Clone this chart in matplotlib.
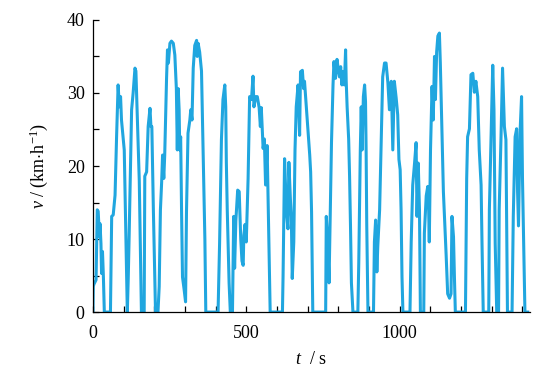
import matplotlib
matplotlib.use("Agg")
import matplotlib.pyplot as plt
from matplotlib.ticker import MultipleLocator

plt.rcParams['font.family'] = ['Liberation Serif', 'DejaVu Serif']
plt.rcParams['mathtext.fontset'] = 'custom'
plt.rcParams['mathtext.rm'] = 'Liberation Serif'
plt.rcParams['mathtext.it'] = 'Liberation Serif:italic'

# speed trace (time in s, speed in km/h)
t_s = [0, 1, 3, 10, 14, 17, 21, 23, 26, 28, 31, 34, 37,
       57, 61, 66, 72, 77, 82, 86, 90, 93, 99, 102, 107, 112,
       115, 118, 126, 131, 137, 140, 144, 151, 155, 158,
       167, 169, 175, 180, 186, 189, 192, 197, 204,
       212, 216, 220, 224, 227, 231, 234, 240, 243, 246, 251, 256, 262, 267,
       272, 275, 278, 281, 283, 286, 289, 292, 297, 302, 305, 310, 316, 319,
       323, 327, 332, 338, 340, 343, 348, 354, 359, 365, 368,
       408, 413, 419, 424, 430, 433, 435, 438, 444, 448,
       455, 459, 462, 466, 472, 477, 482, 486, 490, 492, 496, 500, 506,
       511, 517, 522, 525, 531, 536, 542, 546, 549, 555, 559, 563, 568,
       571, 574, 578,
       618, 620, 625, 631, 636, 639, 644, 647, 650, 655, 659, 663, 669,
       674, 677, 683, 687, 690, 696, 701, 707, 710, 713, 717,
       759, 761, 766, 770, 774, 778, 783, 786, 791, 796, 800, 804, 808,
       812, 815, 820, 824, 826, 829, 834, 837, 840, 843, 848,
       864, 867, 872, 875, 878, 882, 886, 889, 891, 893, 897,
       915, 918, 922, 926, 929, 935, 940, 945, 951, 956, 962, 967, 973,
       978, 983, 989, 994, 998, 1002, 1005, 1008, 1011,
       1034, 1038, 1043, 1049, 1054, 1057, 1061, 1065, 1068,
       1079, 1081, 1087, 1092, 1095, 1097, 1101, 1106, 1110, 1114, 1117,
       1121, 1125, 1130, 1133, 1135, 1139, 1143, 1146, 1152, 1157, 1163,
       1168, 1171, 1176, 1179, 1182,
       1215, 1219, 1222, 1228, 1233, 1239, 1244, 1249, 1255, 1260, 1266,
       1269, 1273,
       1291, 1293, 1298, 1304, 1308, 1312, 1317,
       1323, 1325, 1331, 1336, 1342, 1347, 1349, 1352,
       1367, 1371, 1377, 1382, 1385, 1388, 1393, 1398, 1401, 1405, 1409,
       1418]
v_kmh = [0, 3.5, 3.8, 4.4, 14.0, 13.8, 10.3, 12.1, 9.4, 5.3, 8.3, 4.8, 0,
         0, 13.1, 13.3, 16.0, 24.0, 31.1, 28.1, 29.5, 26.3, 23.6, 22.2, 11.0, 0,
         4.6, 10.5, 27.7, 30.0, 33.4, 33.0, 27.7, 18.0, 8.0, 0,
         0, 18.6, 19.2, 25.4, 27.9, 25.4, 25.4, 14.0, 0,
         0, 3.5, 14.0, 17.8, 21.5, 18.3, 21.5, 32.0, 35.9, 34.1, 36.8, 37.1, 36.8, 35.2,
         30.6, 22.2, 30.6, 27.7, 22.2, 24.0, 13.7, 4.8, 3.2, 1.4, 13.7, 24.5, 26.3, 27.7,
         26.3, 33.4, 36.5, 37.2, 35.0, 36.8, 35.6, 33.0, 22.5, 10.0, 0,
         0, 9.4, 23.6, 29.1, 31.1, 28.1, 20.5, 14.0, 4.0, 0,
         0, 13.1, 6.0, 12.5, 16.7, 16.5, 10.0, 7.0, 6.4, 10.5, 12.0, 9.6, 18.3,
         29.5, 29.1, 32.3, 28.1, 29.5, 29.5, 28.0, 25.4, 28.0, 22.4, 23.7, 17.4, 22.8,
         16.0, 9.6, 0,
         0, 4.8, 21.0, 13.7, 11.4, 20.5, 15.4, 13.0, 4.6, 9.6, 22.2, 28.1, 31.1,
         24.2, 32.9, 33.1, 30.6, 31.6, 28.1, 25.0, 21.5, 19.2, 13.7, 0,
         0, 13.1, 9.6, 4.0, 14.0, 23.2, 31.1, 34.3, 32.0, 34.6, 33.3, 32.2, 33.6,
         31.1, 32.9, 31.1, 35.9, 31.6, 28.1, 23.7, 18.6, 11.8, 4.0, 0,
         0, 6.8, 22.2, 28.1, 22.2, 29.5, 31.1, 28.8, 22.0, 12.0, 0,
         0, 9.6, 12.6, 5.5, 9.0, 14.0, 23.2, 32.2, 34.1, 34.1, 31.4, 27.7, 31.6,
         22.2, 31.6, 29.3, 27.0, 20.9, 19.5, 14.0, 4.8, 0,
         0, 9.6, 17.4, 20.4, 23.2, 13.1, 20.4, 14.0, 0,
         0, 10.8, 15.9, 17.2, 14.0, 9.6, 22.2, 30.9, 26.3, 35.0, 29.1,
         35.6, 37.8, 38.2, 34.1, 30.5, 23.7, 16.5, 13.7, 7.8, 2.5, 1.9,
         2.5, 13.1, 10.3, 4.8, 0,
         0, 18.3, 24.0, 25.1, 32.5, 32.7, 30.1, 31.6, 29.5, 22.2, 17.4,
         9.4, 0,
         0, 14.0, 23.2, 33.8, 27.7, 9.4, 0,
         0, 14.0, 24.0, 33.4, 25.4, 23.6, 14.0, 0,
         0, 13.1, 24.0, 25.1, 16.5, 11.8, 24.5, 29.5, 18.3, 9.4, 0,
         0]

fig = plt.figure(figsize=(5.39, 3.76), dpi=100)
ax = fig.add_axes([0.1725, 0.17, 0.8105, 0.777])

ax.plot(t_s, v_kmh, color='#20a6df', lw=2.2, solid_joinstyle='round')

ax.set_xlim(0, 1425)
ax.set_ylim(0, 40)
ax.xaxis.set_major_locator(MultipleLocator(500))
ax.xaxis.set_minor_locator(MultipleLocator(100))
ax.yaxis.set_major_locator(MultipleLocator(10))
ax.yaxis.set_minor_locator(MultipleLocator(5))
ax.tick_params(which='both', direction='in', labelsize=13, width=0.9, length=4)
ax.tick_params(axis='x', pad=9)
ax.tick_params(axis='y', pad=6)
for side in ('top', 'right'):
    ax.spines[side].set_visible(False)
for side in ('left', 'bottom'):
    ax.spines[side].set_linewidth(0.9)

ax.set_xlabel(r'$t$  / s', fontsize=13, labelpad=7)
ax.set_ylabel(r'$v$ / (km$\cdot$h$^{-1}$)', fontsize=13, labelpad=12)

fig.savefig('out.png', dpi=100)
